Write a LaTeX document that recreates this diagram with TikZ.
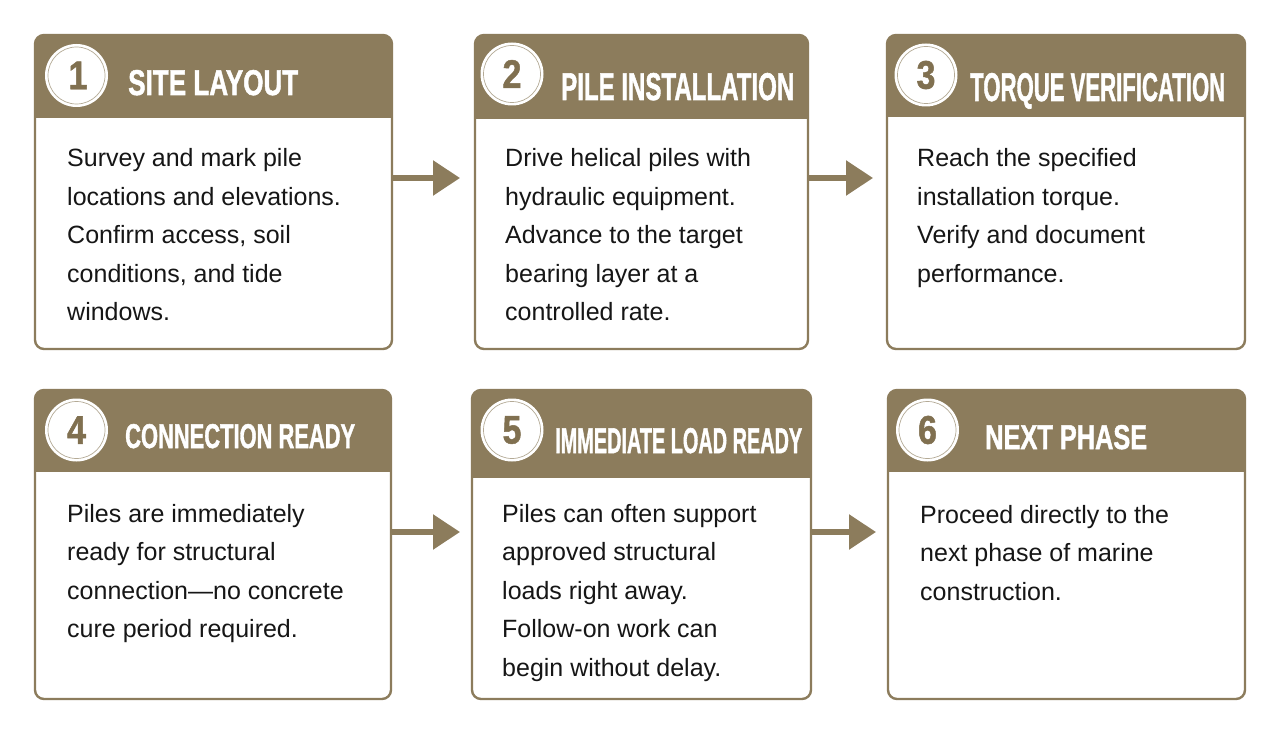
\documentclass[tikz,border=0pt]{standalone}
\usepackage{fontspec}
\usepackage{graphicx}
\setmainfont{Liberation Sans}
\newfontfamily\numfont{Liberation Sans}[UprightFont={* Bold}, FakeStretch=0.85, FakeBold=1.2]
\newfontfamily\ttlfont{Liberation Sans}[UprightFont={* Bold}, FakeBold=1.6]
\usetikzlibrary{arrows.meta}
\definecolor{hdr}{RGB}{140,124,92}
\definecolor{numc}{RGB}{128,112,80}
\definecolor{ringc}{RGB}{180,170,150}
\definecolor{bodyc}{RGB}{22,22,22}
\begin{document}
\begin{tikzpicture}[x=1pt,y=-1pt,
  boxbase/.style={rectangle, fill=white, draw=none, inner sep=0pt, outer sep=0pt, anchor=north west},
  border/.style={draw=hdr, line width=2.4pt, rounded corners=9pt},
  arr/.style={draw=hdr, line width=5.5pt, -{Triangle[length=27pt,width=34pt]}},
  disk/.style={circle, fill=white, minimum size=63pt, inner sep=0pt, outer sep=0pt},
  ring/.style={draw=ringc, line width=0.7pt},
  num/.style={font=\numfont\fontsize{40}{40}\selectfont, text=numc, inner sep=0pt},
  ttl/.style={font=\ttlfont, text=white, inner sep=0pt, anchor=base west},
  body/.style={font=\fontsize{25}{38.5}\selectfont, text=bodyc, inner sep=0pt, anchor=base west}
]
\useasboundingbox (0,0) rectangle (1280,735);
\fill[white] (0,0) rectangle (1280,735);

% #1 name, #2 left, #3 top, #4 right, #5 bottom, #6 header bottom
\newcommand\mkbox[6]{%
  \node[boxbase, minimum width={#4-#2}, minimum height={#5-#3}] (#1) at (#2,#3) {};
  \begin{scope}
    \clip[rounded corners=9pt] (#1.south west) rectangle (#1.north east);
    \fill[hdr] (#1.north west) rectangle (#4,#6);
  \end{scope}
  \draw[border] (#1.south west) rectangle (#1.north east);
}

\mkbox{b1}{35}{35}{392}{349}{118}
\mkbox{b2}{475}{35}{808}{349}{119}
\mkbox{b3}{887}{35}{1245}{349}{117}
\mkbox{b4}{35}{390}{391}{699}{472}
\mkbox{b5}{472}{390}{811}{699}{478}
\mkbox{b6}{888}{390}{1245}{699}{472}

% number disks
\node[disk] (c1) at (76.5,75.5) {};
\node[disk] (c2) at (512,74) {};
\node[disk] (c3) at (926,75) {};
\node[disk] (c4) at (76.5,430) {};
\node[disk] (c5) at (512,430) {};
\node[disk] (c6) at (927.5,430) {};
\foreach \c in {c1,c2,c3,c4,c5,c6} {\draw[ring] (\c.center) circle[radius=28.5];}
\node[num] (n1) at ([xshift=1.5pt]c1.center) {1};
\node[num] (n2) at (c2.center) {2};
\node[num] (n3) at (c3.center) {3};
\node[num] (n4) at (c4.center) {4};
\node[num] (n5) at (c5.center) {5};
\node[num] (n6) at (c6.center) {6};

% titles
\node[ttl] (h1) at (128,95) {\resizebox{170pt}{25pt}{SITE LAYOUT}};
\node[ttl] (h2) at (561,100) {\resizebox{233pt}{27pt}{PILE INSTALLATION}};
\node[ttl] (h3) at (970,101) {\resizebox{255pt}{28pt}{TORQUE VERIFICATION}};
\node[ttl] (h4) at (125,448) {\resizebox{230pt}{24pt}{CONNECTION READY}};
\node[ttl] (h5) at (555,453) {\resizebox{247pt}{25pt}{IMMEDIATE LOAD READY}};
\node[ttl] (h6) at (985,449) {\resizebox{162pt}{24pt}{NEXT PHASE}};

% body texts
\node[body] (t1) at (67,167) {\parbox[t]{330pt}{\raggedright Survey and mark pile\\locations and elevations.\\Confirm access, soil\\conditions, and tide\\windows.}};
\node[body] (t2) at (505,167) {\parbox[t]{300pt}{\raggedright Drive helical piles with\\hydraulic equipment.\\Advance to the target\\bearing layer at a\\controlled rate.}};
\node[body] (t3) at (917,167) {\parbox[t]{320pt}{\raggedright Reach the specified\\installation torque.\\Verify and document\\performance.}};
\node[body] (t4) at (67,522) {\parbox[t]{330pt}{\raggedright Piles are immediately\\ready for structural\\connection\textemdash no concrete\\cure period required.}};
\node[body] (t5) at (502,522) {\parbox[t]{300pt}{\raggedright Piles can often support\\approved structural\\loads right away.\\Follow-on work can\\begin without delay.}};
\node[body] (t6) at (920,523) {\parbox[t]{320pt}{\raggedright Proceed directly to the\\next phase of marine\\construction.}};

% arrows
\coordinate (e1) at (460,178);
\coordinate (e2) at (873,178);
\coordinate (e3) at (460,532);
\coordinate (e4) at (876,532);
\draw[arr] (b1.east |- e1) -- (e1);
\draw[arr] (b2.east |- e2) -- (e2);
\draw[arr] (b4.east |- e3) -- (e3);
\draw[arr] (b5.east |- e4) -- (e4);
\end{tikzpicture}
\end{document}
